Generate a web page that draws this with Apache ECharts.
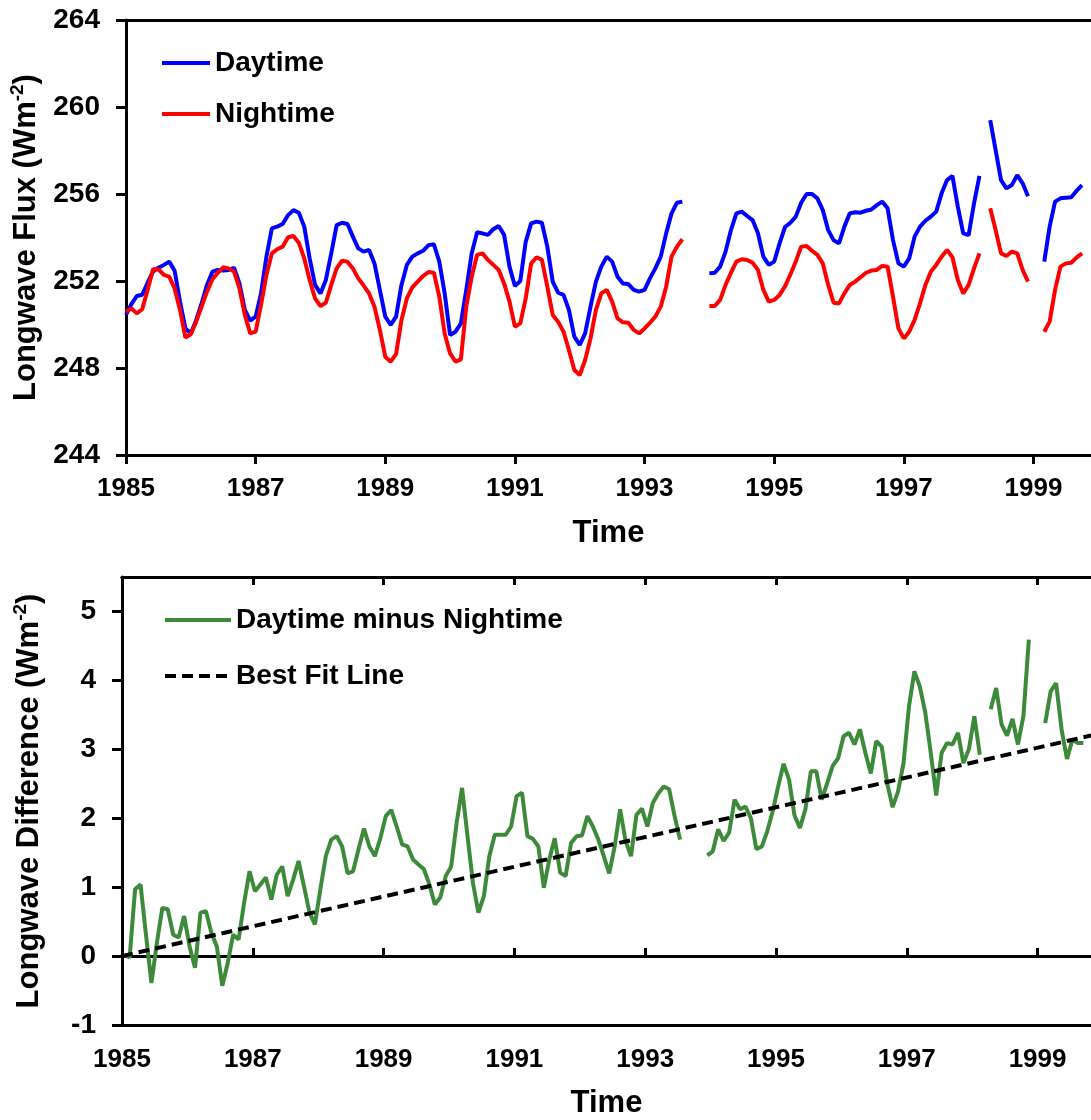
<!DOCTYPE html>
<html><head><meta charset="utf-8">
<script src="https://cdn.jsdelivr.net/npm/echarts@6/dist/echarts.min.js"></script>
<style>html,body{margin:0;padding:0;background:#fff}#c{width:1091px;height:1120px}</style>
</head><body><div id="c"></div>
<script>
// ---------- data (monthly, starting Jan 1985; null = missing month) ----------
const startYear = 1985;
const xTickYears = [1985, 1987, 1989, 1991, 1993, 1995, 1997, 1999];
const fluxTicks = [244, 248, 252, 256, 260, 264];
const diffTicks = [-1, 0, 1, 2, 3, 4, 5];

const daytime = [
250.44,250.94,251.31,251.37,251.92,252.43,252.61,252.74,252.89,252.47,251.05,249.82,
249.59,250.21,250.97,251.82,252.43,252.51,252.48,252.51,252.61,251.89,250.67,250.18,
250.36,251.43,253.12,254.42,254.50,254.62,255.03,255.26,255.14,254.50,253.04,251.82,
251.43,252.05,253.27,254.57,254.68,254.62,254.04,253.50,253.35,253.43,252.81,251.59,
250.36,249.98,250.36,251.82,252.74,253.12,253.27,253.39,253.65,253.69,252.89,251.43,
249.52,249.67,250.05,251.59,253.27,254.24,254.19,254.12,254.38,254.53,254.12,252.66,
251.77,252.00,253.80,254.65,254.73,254.68,253.58,251.97,251.46,251.36,250.67,249.44,
249.06,249.59,250.82,251.97,252.66,253.12,252.89,252.20,251.89,251.86,251.59,251.51,
251.59,252.12,252.58,253.12,254.19,255.11,255.60,255.65,null,null,null,null,
252.35,252.38,252.66,253.35,254.34,255.11,255.19,254.99,254.80,254.19,253.12,252.74,
252.89,253.73,254.48,254.68,254.96,255.60,256.00,256.00,255.80,255.26,254.34,253.88,
253.73,254.50,255.11,255.16,255.14,255.23,255.29,255.49,255.65,255.34,253.88,252.81,
252.66,253.04,254.04,254.50,254.77,254.96,255.19,256.03,256.64,256.83,255.42,254.19,
254.11,255.57,256.83,null,259.40,258.02,256.64,256.26,256.41,256.87,256.49,255.90,
null,null,252.89,254.50,255.65,255.80,255.83,255.85,256.15,256.41
];

const nighttime = [
250.59,250.74,250.51,250.70,251.59,252.54,252.54,252.28,252.20,251.66,250.67,249.40,
249.55,250.13,250.82,251.51,252.08,252.38,252.63,252.58,252.43,251.66,250.44,249.59,
249.67,250.90,252.28,253.27,253.46,253.58,254.01,254.07,253.76,253.04,252.05,251.20,
250.85,251.00,251.82,252.58,252.93,252.89,252.58,252.12,251.79,251.43,250.82,249.75,
248.52,248.29,248.64,250.21,251.20,251.71,251.97,252.23,252.41,252.38,251.28,249.59,
248.67,248.29,248.40,250.82,252.20,253.20,253.27,252.97,252.74,252.51,251.89,251.05,
249.90,250.05,251.20,252.80,253.09,252.97,251.74,250.44,250.13,249.67,248.83,247.91,
247.68,248.37,249.36,250.67,251.43,251.59,251.05,250.28,250.10,250.08,249.75,249.59,
249.82,250.08,250.36,250.82,251.74,253.12,253.58,253.92,null,null,null,null,
250.85,250.85,251.13,251.82,252.38,252.89,253.00,252.97,252.84,252.51,251.59,251.05,
251.13,251.36,251.75,252.30,252.90,253.58,253.61,253.39,253.20,252.81,251.82,251.00,
250.97,251.43,251.82,251.97,252.17,252.38,252.48,252.51,252.69,252.66,251.28,249.82,
249.36,249.67,250.21,250.97,251.82,252.43,252.74,253.12,253.43,253.09,252.05,251.43,
251.82,252.58,253.27,null,255.34,254.34,253.27,253.15,253.35,253.27,252.51,251.97,
null,null,249.67,250.13,251.59,252.66,252.81,252.84,253.09,253.27
];

const difference = [
0.02,-0.02,0.97,1.04,0.31,-0.39,0.19,0.70,0.68,0.31,0.27,0.58,
0.14,-0.17,0.63,0.65,0.34,0.14,-0.43,-0.10,0.31,0.24,0.77,1.23,
0.94,1.04,1.14,0.82,1.18,1.30,0.87,1.11,1.38,1.01,0.63,0.46,
0.97,1.45,1.69,1.74,1.59,1.20,1.23,1.55,1.85,1.59,1.45,1.71,
2.03,2.12,1.88,1.62,1.59,1.40,1.33,1.26,1.04,0.75,0.85,1.16,
1.30,1.93,2.44,1.74,1.06,0.63,0.87,1.45,1.76,1.76,1.76,1.88,
2.32,2.37,1.74,1.70,1.59,0.99,1.40,1.71,1.21,1.16,1.64,1.74,
1.75,2.03,1.88,1.69,1.45,1.20,1.59,2.13,1.67,1.45,2.05,2.14,
1.88,2.22,2.36,2.46,2.42,2.03,1.69,null,null,null,null,1.46,
1.52,1.84,1.67,1.79,2.27,2.13,2.17,2.00,1.55,1.59,1.81,2.10,
2.46,2.79,2.56,2.04,1.86,2.13,2.68,2.68,2.27,2.51,2.76,2.87,
3.19,3.24,3.07,3.29,2.95,2.65,3.12,3.04,2.51,2.16,2.39,2.80,
3.62,4.13,3.91,3.53,2.95,2.33,2.95,3.09,3.07,3.24,2.80,3.00,
3.48,2.92,null,3.58,3.89,3.36,3.20,3.44,3.07,3.48,4.59,null,
null,3.38,3.84,3.96,3.29,2.86,3.14,3.09,3.09
];

const bestFitYears = [1985.0, 1999.82];
const bestFitValues = [0.0, 3.2];

// ---------- helpers ----------
const FONT = '"Liberation Sans", Arial, Helvetica, sans-serif';
const toPairs = (arr, offset) => arr.map((v, i) => [startYear + (i + offset) / 12, v == null ? null : v]);
const yearFmt = v => String(Math.round(v));
const xTickLabel = {fontFamily: FONT, fontWeight: 'bold', fontSize: 26, color: '#000'};
const yTickLabel = {fontFamily: FONT, fontWeight: 'bold', fontSize: 28, color: '#000'};
const nameStyle = () => ({fontFamily: FONT, fontWeight: 'bold', fontSize: 31, color: '#000'});
const supRich = {
  t: {fontFamily: FONT, fontWeight: 'bold', fontSize: 31, color: '#000', lineHeight: 36},
  s: {fontFamily: FONT, fontWeight: 'bold', fontSize: 19, color: '#000', lineHeight: 20, verticalAlign: 'top'}
};
const lineAx = {show: true, lineStyle: {color: '#000', width: 3}};
const legendText = {fontFamily: FONT, fontWeight: 'bold', fontSize: 28, color: '#000'};

const TOP = {left: 123, top: 20, width: 968, height: 435};
const BOT = {left: 122, top: 577, width: 969, height: 448};
const topXMax = 1999.888, botXMax = 1999.817;

const option = {
  animation: false,
  backgroundColor: '#fff',
  grid: [
    Object.assign({containLabel: false}, TOP),
    Object.assign({containLabel: false}, BOT),
    Object.assign({containLabel: false}, BOT)
  ],
  xAxis: [
    { // 0: top panel bottom axis
      type: 'value', gridIndex: 0, position: 'bottom', min: startYear, max: topXMax, interval: 2,
      axisLine: Object.assign({onZero: false}, lineAx),
      axisTick: {show: true, inside: false, length: 9, lineStyle: {width: 3, color: '#000'}, customValues: xTickYears},
      axisLabel: Object.assign({margin: 21, formatter: yearFmt, customValues: xTickYears}, xTickLabel),
      splitLine: {show: false},
      name: 'Time', nameLocation: 'middle', nameGap: 63, nameTextStyle: nameStyle()
    },
    { // 1: top panel top border
      type: 'value', gridIndex: 0, position: 'top', min: startYear, max: topXMax,
      axisLine: Object.assign({onZero: false}, lineAx), axisTick: {show: false}, axisLabel: {show: false}, splitLine: {show: false}
    },
    { // 2: bottom panel bottom border + labels
      type: 'value', gridIndex: 1, position: 'bottom', min: startYear, max: botXMax, interval: 2,
      axisLine: Object.assign({onZero: false}, lineAx),
      axisTick: {show: false},
      axisLabel: Object.assign({margin: 22, formatter: yearFmt, customValues: xTickYears}, xTickLabel),
      splitLine: {show: false},
      name: 'Time', nameLocation: 'middle', nameGap: 63, nameTextStyle: nameStyle()
    },
    { // 3: bottom panel top border
      type: 'value', gridIndex: 1, position: 'top', min: startYear, max: botXMax,
      axisLine: Object.assign({onZero: false}, lineAx), axisTick: {show: false}, axisLabel: {show: false}, splitLine: {show: false}
    },
    { // 4: zero line, ticks upward
      type: 'value', gridIndex: 2, position: 'bottom', min: startYear, max: botXMax, interval: 2,
      axisLine: Object.assign({onZero: true}, lineAx),
      axisTick: {show: true, inside: true, length: 8, lineStyle: {width: 3, color: '#000'}, customValues: xTickYears},
      axisLabel: {show: false}, splitLine: {show: false}
    },
    { // 5: zero line, ticks downward
      type: 'value', gridIndex: 2, position: 'top', min: startYear, max: botXMax, interval: 2,
      axisLine: Object.assign({onZero: true}, lineAx),
      axisTick: {show: true, inside: true, length: 8, lineStyle: {width: 3, color: '#000'}, customValues: xTickYears},
      axisLabel: {show: false}, splitLine: {show: false}
    }
  ],
  yAxis: [
    {
      type: 'value', gridIndex: 0, min: 244, max: 264, interval: 4,
      axisLine: Object.assign({onZero: false}, lineAx),
      axisTick: {show: true, inside: false, length: 10, lineStyle: {width: 3, color: '#000'}, customValues: fluxTicks},
      axisLabel: Object.assign({margin: 26, customValues: fluxTicks}, yTickLabel),
      splitLine: {show: false},
      name: '{t|Longwave Flux (Wm}{s|-2}{t|)}', nameLocation: 'middle', nameGap: 82,
      nameTextStyle: {rich: supRich}
    },
    {
      type: 'value', gridIndex: 1, min: -1, max: 5.5, interval: 1,
      axisLine: Object.assign({onZero: false}, lineAx),
      axisTick: {show: true, inside: false, length: 10, lineStyle: {width: 3, color: '#000'}, customValues: diffTicks},
      axisLabel: Object.assign({margin: 26, customValues: diffTicks}, yTickLabel),
      splitLine: {show: false},
      name: '{t|Longwave Difference (Wm}{s|-2}{t|)}', nameLocation: 'middle', nameGap: 75,
      nameTextStyle: {rich: supRich}
    },
    {
      type: 'value', gridIndex: 2, min: -1, max: 5.5, show: false
    }
  ],
  legend: [
    {
      data: ['Daytime', 'Nightime'], orient: 'vertical', left: 160, top: 49, padding: 0,
      itemWidth: 48, itemHeight: 14, itemGap: 23,
      itemStyle: {opacity: 0, borderWidth: 0},
      lineStyle: {width: 4},
      textStyle: legendText, selectedMode: false
    },
    {
      data: ['Daytime minus Nightime', 'Best Fit Line'], orient: 'vertical', left: 163, top: 606, padding: 0,
      itemWidth: 66, itemHeight: 14, itemGap: 28,
      itemStyle: {opacity: 0, borderWidth: 0},
      lineStyle: {width: 4},
      textStyle: legendText, selectedMode: false
    }
  ],
  series: [
    {
      name: 'Daytime', type: 'line', xAxisIndex: 0, yAxisIndex: 0, symbol: 'none', showSymbol: false,
      data: toPairs(daytime, 0), connectNulls: false,
      lineStyle: {color: '#0000ff', width: 4}, itemStyle: {color: '#0000ff'}
    },
    {
      name: 'Nightime', type: 'line', xAxisIndex: 0, yAxisIndex: 0, symbol: 'none', showSymbol: false,
      data: toPairs(nighttime, 0), connectNulls: false,
      lineStyle: {color: '#ff0000', width: 4}, itemStyle: {color: '#ff0000'}
    },
    {
      name: 'Daytime minus Nightime', type: 'line', xAxisIndex: 2, yAxisIndex: 1, symbol: 'none', showSymbol: false,
      data: toPairs(difference, 0.4), connectNulls: false,
      lineStyle: {color: '#3c8a3a', width: 4}, itemStyle: {color: '#3c8a3a'}
    },
    {
      name: 'Best Fit Line', type: 'line', xAxisIndex: 2, yAxisIndex: 1, symbol: 'none', showSymbol: false,
      data: bestFitYears.map((x, i) => [x, bestFitValues[i]]),
      lineStyle: {color: '#000', width: 4, type: [11, 6]}, itemStyle: {color: '#000'}
    }
  ]
};

const chart = echarts.init(document.getElementById('c'), null, {renderer: 'canvas'});
chart.setOption(option);
</script></body></html>
